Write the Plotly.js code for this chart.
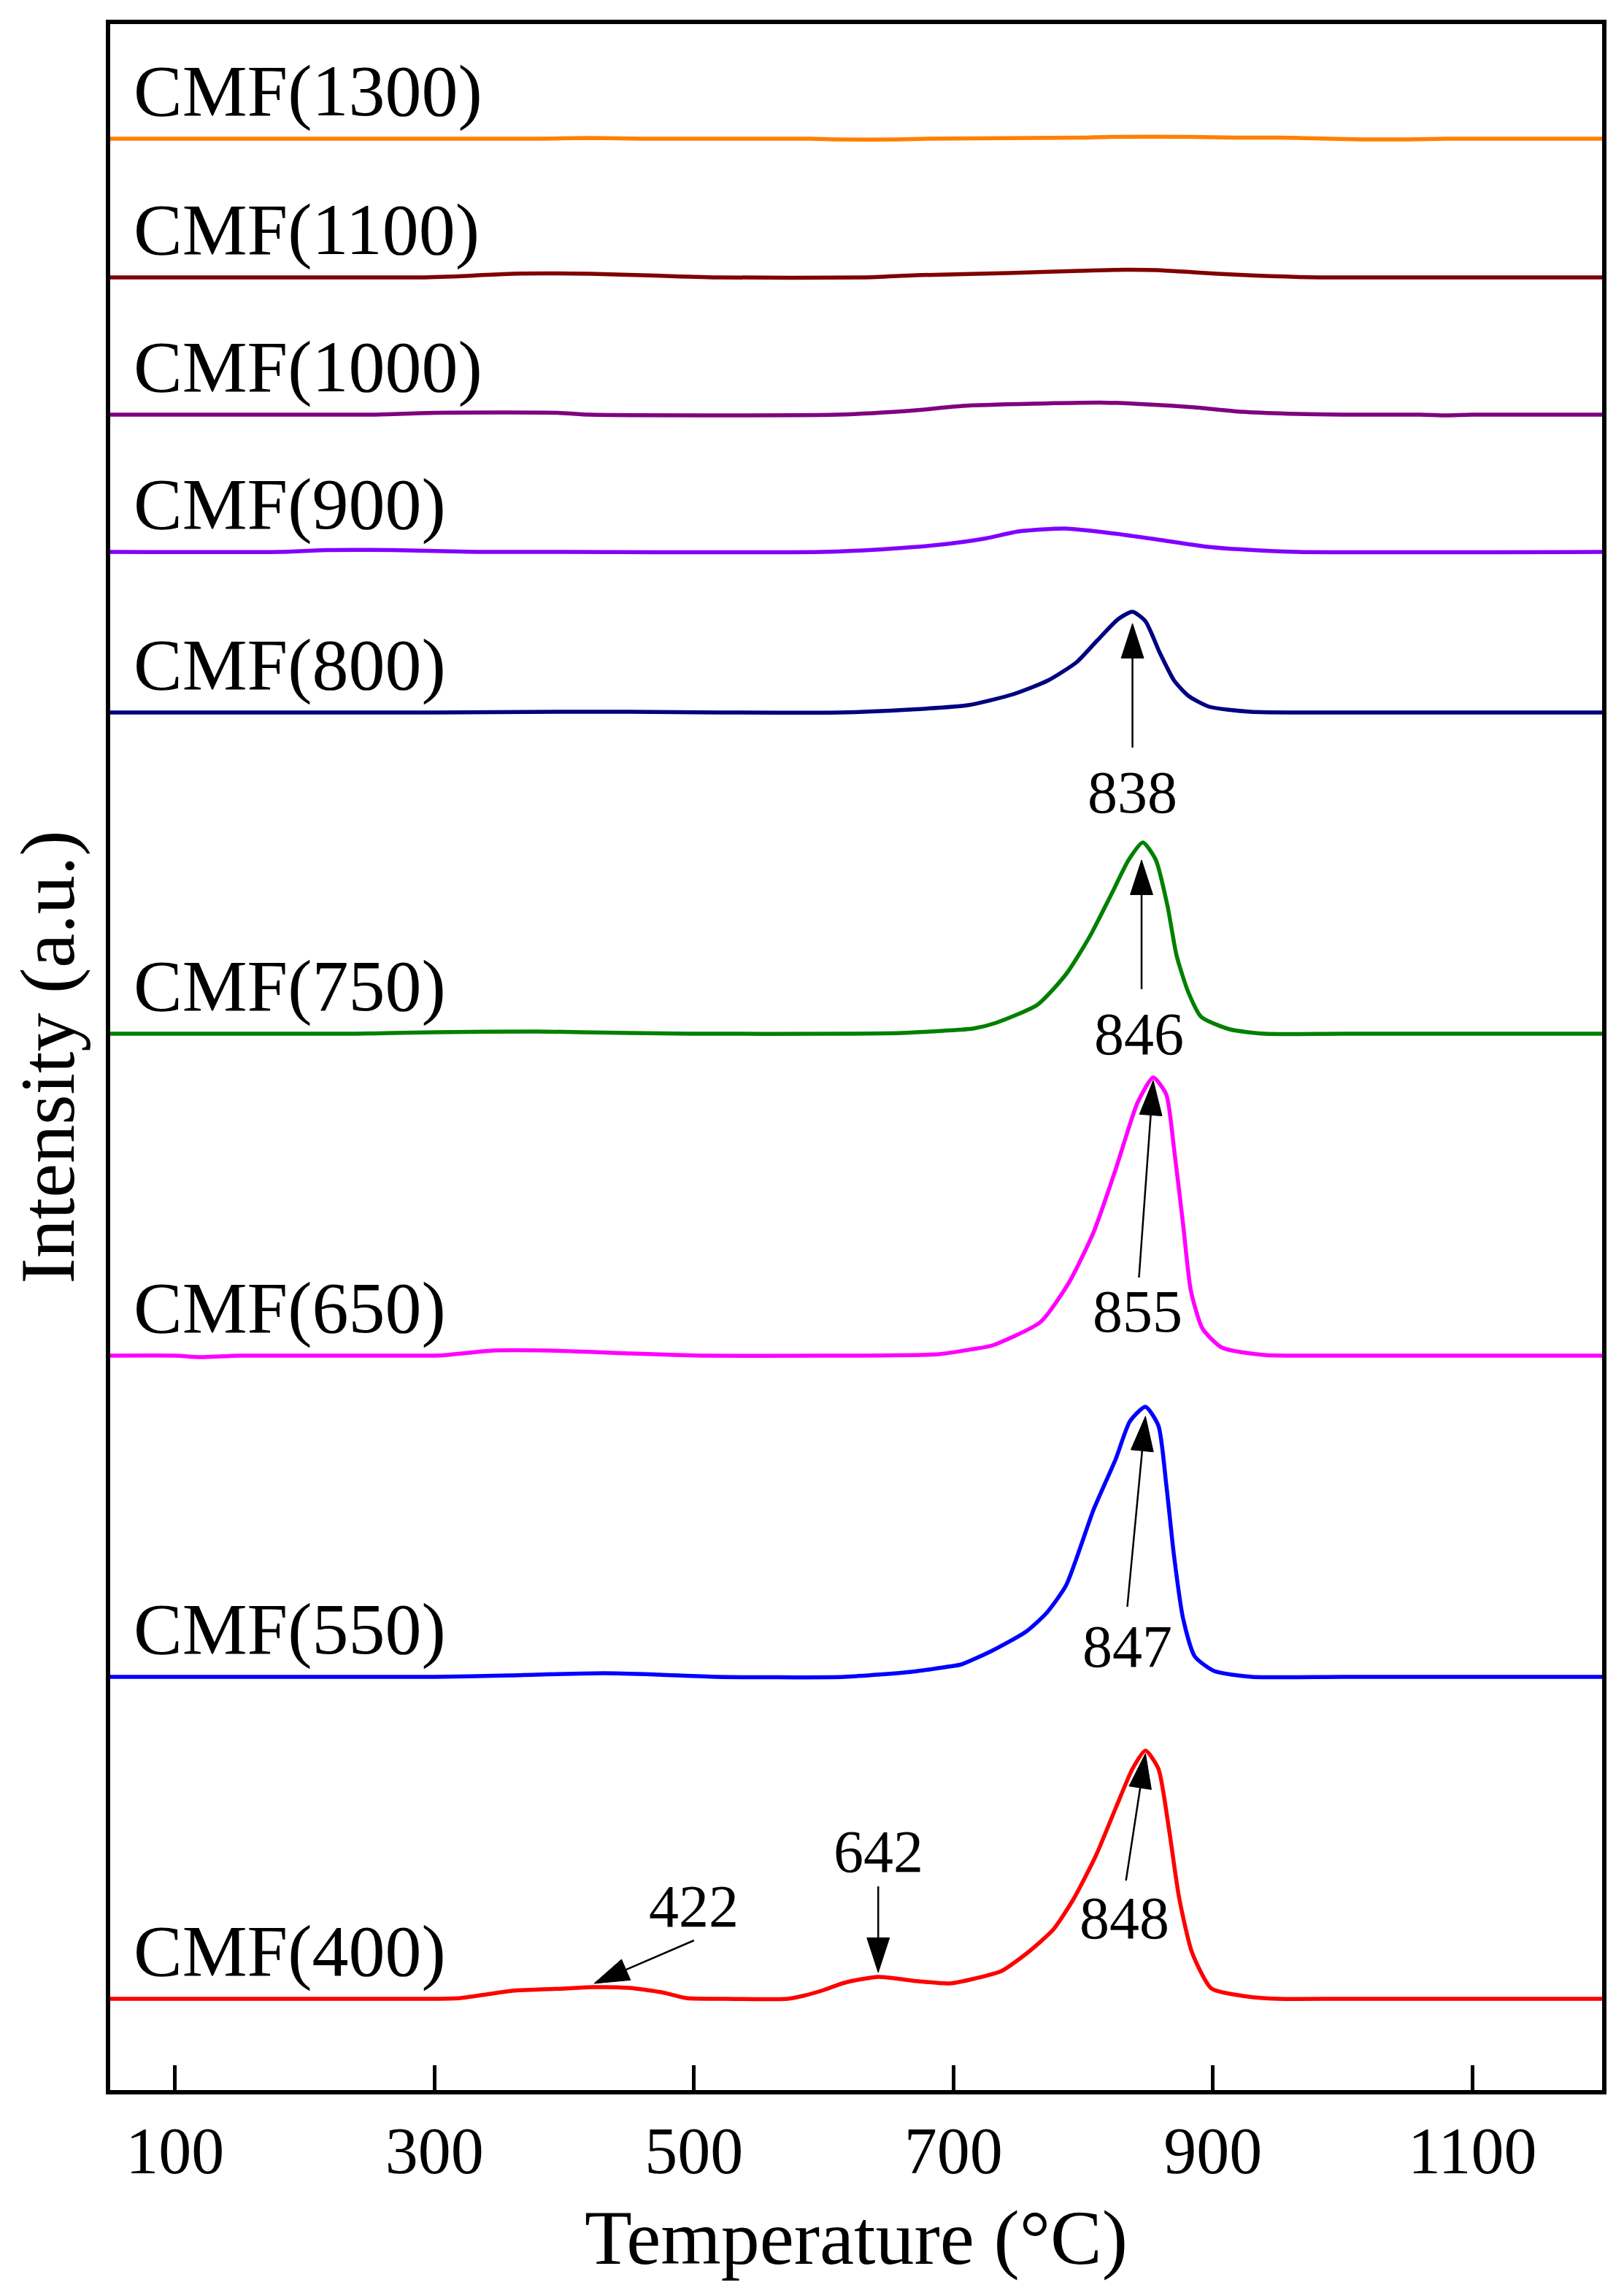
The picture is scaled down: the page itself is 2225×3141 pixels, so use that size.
<!DOCTYPE html>
<html>
<head>
<meta charset="utf-8">
<script src="https://cdn.plot.ly/plotly-3.0.1.min.js"></script>
<style>
  html, body { margin: 0; padding: 0; background: #fff; }
  #plot { width: 2225px; height: 3141px; }
</style>
</head>
<body>
<div id="plot"></div>
<script>
// temperature (°C) / intensity (a.u.), each above its own baseline
var x400 = [50, 100, 200, 300, 320, 340, 360, 400, 422, 450, 475, 494, 520, 572, 584, 600, 616, 642, 673, 697, 717, 737, 757, 777, 793, 810, 825, 838, 848, 858, 866, 874, 884, 899, 927, 950, 1000, 1100, 1200];
var y400 = [0, 0, 0, 0, 1, 6, 11, 14, 16, 15, 9, 1, 0, 0, 4, 12, 22, 30, 24, 21, 28, 38, 63, 95, 138, 197, 261, 315, 340, 315, 234, 138, 63, 14, 3, 0, 0, 0, 0];

var x550 = [50, 300, 358, 431, 473, 517, 616, 668, 696, 706, 730, 756, 772, 787, 808, 825, 836, 848, 858, 864, 870, 877, 886, 901, 930, 1000, 1200];
var y550 = [0, 0, 2, 5, 3, 0, 0, 7, 14, 17, 36, 62, 88, 126, 229, 298, 350, 370, 344, 264, 166, 80, 28, 8, 0, 0, 0];

var x650 = [50, 100, 119, 150, 300, 310, 345, 388, 452, 508, 600, 689, 715, 730, 767, 789, 808, 825, 842, 854, 864, 870, 877, 883, 892, 907, 939, 1000, 1200];
var y650 = [0, 0, -2, 0, 0, 1, 7, 7, 3, 0, 0, 2, 9, 14, 46, 100, 169, 255, 347, 381, 358, 284, 180, 89, 37, 11, 1, 0, 0];

var x750 = [50, 239, 300, 379, 450, 497, 612, 660, 692, 715, 733, 765, 787, 805, 822, 835, 846, 856, 865, 872, 881, 891, 913, 940, 1000, 1200];
var y750 = [0, 0, 2, 3, 1, 0, 0, 1, 4, 7, 15, 40, 82, 133, 192, 238, 262, 238, 175, 107, 57, 23, 6, 0, 0, 0];

var x800 = [50, 300, 400, 450, 520, 612, 666, 711, 746, 773, 795, 811, 827, 838, 848, 859, 870, 881, 897, 929, 1000, 1200];
var y800 = [0, 0, 1, 1, 0, 0, 4, 10, 25, 44, 69, 99, 128, 138, 125, 82, 44, 23, 8, 1, 0, 0];

var x900 = [50, 180, 217, 268, 332, 400, 599, 653, 689, 725, 750, 786, 822, 857, 893, 922, 965, 1200];
var y900 = [0, 0, 2.5, 2.5, 0, 0, 0, 4.6, 9.7, 18.5, 28, 32, 25.6, 17, 7.6, 3.4, 0, 0];

var x1000 = [50, 250, 300, 395, 420, 610, 671, 707, 761, 814, 850, 886, 922, 958, 1000, 1060, 1080, 1100, 1200];
var y1000 = [0, 0, 2.5, 2.5, 0, 0, 6, 12, 15, 16.5, 14, 10, 4, 1.3, 0, 0, -1, 0, 0];

var x1100 = [50, 290, 330, 360, 420, 470, 520, 631, 671, 743, 797, 832, 857, 885, 921, 982, 1200];
var y1100 = [0, 0, 2.5, 5, 5, 2.5, 0, 0, 3, 6, 9, 10.5, 10, 7, 3.4, 0, 0];

var x1300 = [50, 380, 420, 460, 590, 610, 657, 680, 760, 800, 822, 883, 916, 951, 990, 1015, 1050, 1080, 1200];
var y1300 = [0, 0, 1, 0, 0, -1, -1, 0, 1, 1.5, 2.5, 2.5, 1.5, 1.5, 0, -1, -1, 0, 0];

var sampleNames = ['CMF(400)', 'CMF(550)', 'CMF(650)', 'CMF(750)', 'CMF(800)', 'CMF(900)', 'CMF(1000)', 'CMF(1100)', 'CMF(1300)'];
var offsets = [125, 566, 1006, 1447, 1887, 2107, 2295, 2483, 2673];
var colors = ['#FF0000', '#0000FF', '#FF00FF', '#008000', '#000080', '#8000FF', '#800080', '#800000', '#FF8000'];
var xs = [x400, x550, x650, x750, x800, x900, x1000, x1100, x1300];
var ys = [y400, y550, y650, y750, y800, y900, y1000, y1100, y1300];

// peak markers: label, text position, arrow tail, arrow head
var peakLabels = ['422', '642', '848', '847', '855', '846', '838'];
var peakTextX = [500, 642, 832, 834, 842, 843, 838];
var peakTextY = [252, 327, 236, 608, 1067, 1447, 1778];
var arrowTailX = [500, 642, 833, 834, 843, 845, 838];
var arrowTailY = [205, 279, 287, 662, 1113, 1508, 1839];
var arrowHeadX = [423, 642, 848, 848, 854, 845, 838];
var arrowHeadY = [146, 161, 461, 923, 1383, 1685, 2009];

var serif = '"Liberation Serif", "Times New Roman", serif';

var data = [];
for (var i = 0; i < xs.length; i++) {
    var off = offsets[i];
    data.push({
        x: xs[i],
        y: ys[i].map(function (v) { return v + off; }),
        type: 'scatter',
        mode: 'lines',
        name: sampleNames[i],
        line: {color: colors[i], width: 5.5, shape: 'spline', smoothing: 0.6},
        hoverinfo: 'skip'
    });
}
for (var j = 0; j < peakLabels.length; j++) {
    data.push({
        x: [arrowTailX[j], arrowHeadX[j]],
        y: [arrowTailY[j], arrowHeadY[j]],
        type: 'scatter',
        mode: 'lines+markers',
        line: {color: '#000', width: 2.5},
        marker: {symbol: 'arrow', angleref: 'previous', size: [0, 50], color: '#000',
                 opacity: 1, line: {color: '#000', width: 1}},
        hoverinfo: 'skip'
    });
}

var annotations = [];
for (var k = 0; k < sampleNames.length; k++) {
    annotations.push({
        x: 67, y: offsets[k] + 66, xref: 'x', yref: 'y',
        text: sampleNames[k], showarrow: false,
        xanchor: 'left', yanchor: 'middle',
        font: {family: serif, size: 100, color: '#000'}
    });
}
for (var m = 0; m < peakLabels.length; m++) {
    annotations.push({
        x: peakTextX[m], y: peakTextY[m], xref: 'x', yref: 'y',
        text: peakLabels[m], showarrow: false,
        xanchor: 'center', yanchor: 'middle',
        font: {family: serif, size: 82, color: '#000'}
    });
}

var layout = {
    width: 2225,
    height: 3141,
    showlegend: false,
    paper_bgcolor: '#fff',
    plot_bgcolor: '#fff',
    margin: {l: 151, r: 30, t: 33, b: 278},
    font: {family: serif, color: '#000'},
    xaxis: {
        range: [50, 1200],
        tickvals: [100, 300, 500, 700, 900, 1100],
        ticks: 'inside',
        ticklen: 34,
        tickwidth: 5,
        tickcolor: '#000',
        ticklabelstandoff: 0,
        tickfont: {family: serif, size: 90, color: '#000'},
        showline: true,
        linewidth: 6,
        linecolor: '#000',
        mirror: true,
        showgrid: false,
        zeroline: false,
        title: {text: 'Temperature (°C)', font: {family: serif, size: 106, color: '#000'}, standoff: 34}
    },
    yaxis: {
        range: [0, 2830],
        showticklabels: false,
        ticks: '',
        showline: true,
        linewidth: 6,
        linecolor: '#000',
        mirror: true,
        showgrid: false,
        zeroline: false,
        title: {text: 'Intensity (a.u.)', font: {family: serif, size: 106, color: '#000'}, standoff: 10}
    },
    annotations: annotations
};

Plotly.newPlot('plot', data, layout, {staticPlot: true});
</script>
</body>
</html>
